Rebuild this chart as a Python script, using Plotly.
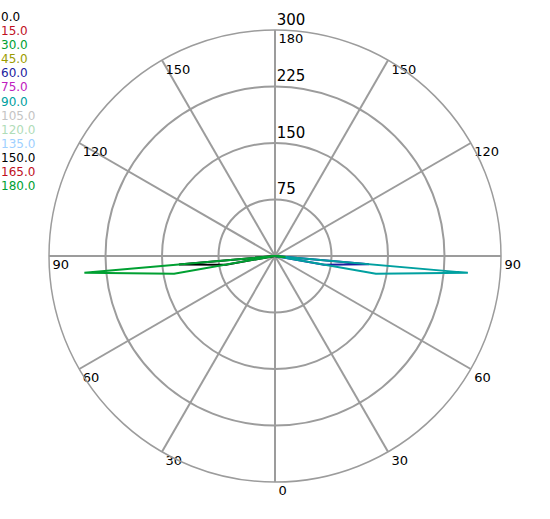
import plotly.graph_objects as go

# ---- data -------------------------------------------------------------
c_planes = ["0.0", "15.0", "30.0", "45.0", "60.0", "75.0", "90.0",
            "105.0", "120.0", "135.0", "150.0", "165.0", "180.0"]
c_colors = ["#000000", "#c0101e", "#00a032", "#9c9c00", "#1c1ca0", "#c020c0",
            "#00a0a0", "#c4c4c4", "#b0dcb8", "#a0d0ff", "#000000", "#c0101e",
            "#00a032"]

gamma = [0, 5, 10, 15, 20, 25, 30, 35, 40, 45, 50, 55, 60, 65, 70, 75, 80, 85, 90]

i_c000 = [0, 0, 0, 0, 0, 0, 0, 0, 0, 0, 0, 0, 0, 0, 0, 0, 3, 6, 0]
i_c015 = [0, 0, 0, 0, 0, 0, 0, 0, 0, 0, 0, 0, 0, 0, 0, 0, 4, 7, 0]
i_c030 = [0, 0, 0, 0, 0, 0, 0, 0, 0, 0, 0, 0, 0, 0, 0, 0, 8, 14, 0]
i_c045 = [0, 0, 0, 0, 0, 0, 0, 0, 0, 0, 0, 0, 0, 0, 0, 0, 6, 11, 0]
i_c060 = [0, 0, 0, 0, 0, 0, 0, 0, 0, 0, 0, 0, 0, 0, 0, 0, 66, 125, 0]
i_c075 = [0, 0, 0, 0, 0, 0, 0, 0, 0, 0, 0, 0, 0, 0, 0, 0, 5, 9, 0]
i_c090 = [0, 0, 0, 0, 0, 0, 0, 0, 0, 0, 0, 0, 0, 0, 0, 0, 136, 257, 0]
i_c105 = [0, 0, 0, 0, 0, 0, 0, 0, 0, 0, 0, 0, 0, 0, 0, 0, 4, 7, 0]
i_c120 = [0, 0, 0, 0, 0, 0, 0, 0, 0, 0, 0, 0, 0, 0, 0, 0, 5, 9, 0]
i_c135 = [0, 0, 0, 0, 0, 0, 0, 0, 0, 0, 0, 0, 0, 0, 0, 0, 6, 10, 0]
i_c150 = [0, 0, 0, 0, 0, 0, 0, 0, 0, 0, 0, 0, 0, 0, 0, 0, 66, 128, 0]
i_c165 = [0, 0, 0, 0, 0, 0, 0, 0, 0, 0, 0, 0, 0, 0, 0, 0, 6, 10, 0]
i_c180 = [0, 0, 0, 0, 0, 0, 0, 0, 0, 0, 0, 0, 0, 0, 0, 0, 136, 254, 0]

intensities = [i_c000, i_c015, i_c030, i_c045, i_c060, i_c075, i_c090,
               i_c105, i_c120, i_c135, i_c150, i_c165, i_c180]

radial_ticks = [75, 150, 225, 300]
angle_positions = [0, 30, 60, 90, 120, 150, 180, 210, 240, 270, 300, 330]
angle_labels = ["0", "30", "60", "90", "120", "150", "180",
                "150", "120", "90", "60", "30"]

# ---- figure -----------------------------------------------------------
fig = go.Figure()

# draw order so that the large lobes sit on top of the smaller ones
order = [0, 1, 3, 5, 7, 8, 9, 11, 4, 10, 6, 12, 2]
for k in order:
    cval = float(c_planes[k])
    theta = gamma if cval <= 90 else [360 - g for g in gamma]
    fig.add_trace(go.Scatterpolar(
        r=intensities[k], theta=theta, mode="lines",
        line=dict(color=c_colors[k], width=2),
        name=c_planes[k], showlegend=False, hoverinfo="skip",
    ))

label_r = radial_ticks[-1]
# angular labels (inside, next to each spoke end)
fig.add_trace(go.Scatterpolar(
    r=[label_r] * len(angle_positions), theta=angle_positions,
    mode="markers+text", text=angle_labels, textposition="bottom right",
    marker=dict(size=4, opacity=0),
    textfont=dict(family="DejaVu Sans", size=13, color="#000000"),
    showlegend=False, hoverinfo="skip", cliponaxis=False,
))
# radial labels along the upward axis
fig.add_trace(go.Scatterpolar(
    r=radial_ticks, theta=[180] * len(radial_ticks),
    mode="markers+text", text=[str(v) for v in radial_ticks],
    textposition="top right", marker=dict(size=1, opacity=0),
    textfont=dict(family="DejaVu Sans", size=15, color="#000000"),
    showlegend=False, hoverinfo="skip", cliponaxis=False,
))

grid = "#9c9c9c"
fig.update_layout(
    width=550, height=519,
    margin=dict(l=0, r=0, t=0, b=0),
    paper_bgcolor="white",
    showlegend=False,
    polar=dict(
        domain=dict(x=[0.0891, 0.9109], y=[0.0713, 0.9422]),
        bgcolor="white",
        radialaxis=dict(range=[0, 300], tickvals=radial_ticks,
                        showticklabels=False, ticks="", showline=False,
                        gridcolor=grid, gridwidth=1.5),
        angularaxis=dict(rotation=270, direction="counterclockwise",
                         tickvals=angle_positions, showticklabels=False,
                         ticks="", showline=True, linecolor=grid,
                         linewidth=1.5, gridcolor=grid, gridwidth=1.5),
    ),
)

# colored legend text, top-left
for i, (lab, col) in enumerate(zip(c_planes, c_colors)):
    fig.add_annotation(
        x=0, y=1 - (17 + i * 14.1) / 519, xref="paper", yref="paper",
        xanchor="left", yanchor="middle", showarrow=False,
        text=lab, font=dict(family="DejaVu Sans", size=12, color=col),
        borderpad=0,
    )

fig.write_html("out.html", config={"displayModeBar": False},
               post_script="document.body.style.margin='0px';")
